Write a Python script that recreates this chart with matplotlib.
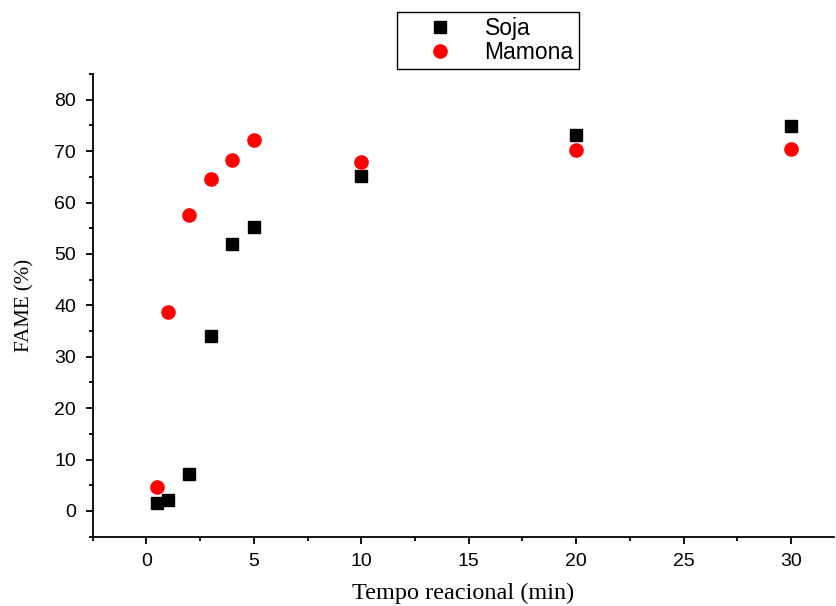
import numpy as np
import matplotlib.pyplot as plt

tempo = [0.5, 1, 2, 3, 4, 5, 10, 20, 30]
soja = [1.6, 2.1, 7.2, 34.1, 51.9, 55.2, 65.1, 73.1, 74.9]
mamona = [4.6, 38.8, 57.5, 64.6, 68.3, 72.1, 67.8, 70.2, 70.4]

fig = plt.figure(figsize=(8.37, 6.06), dpi=100)
ax = fig.add_axes([0.1108, 0.1144, 0.8857, 0.7635])

ax.plot(tempo, soja, "s", color="black", markersize=8, label="Soja", linestyle="none")
ax.plot(tempo, mamona, "o", color="red", markersize=9.5, label="Mamona", linestyle="none")

ax.set_xlim(-2.5, 32)
ax.set_ylim(-5, 85)
ax.set_xticks(np.arange(0, 31, 5))
ax.set_xticks(np.arange(-2.5, 32, 2.5), minor=True)
ax.set_yticks(np.arange(0, 81, 10))
ax.set_yticks(np.arange(-5, 86, 5), minor=True)

for s in ["top", "right"]:
    ax.spines[s].set_visible(False)
for s in ["left", "bottom"]:
    ax.spines[s].set_linewidth(1.3)

ax.tick_params(which="major", direction="out", length=5, width=1.3,
               labelsize=14, pad=7)
ax.tick_params(which="minor", direction="out", length=3, width=1.3)
for lab in ax.get_xticklabels() + ax.get_yticklabels():
    lab.set_family("Liberation Sans")

ax.set_xlabel("Tempo reacional (min)", family="Liberation Serif", fontsize=17.5, labelpad=9)
ax.set_ylabel("FAME (%)", family="Liberation Serif", fontsize=15, labelpad=14)

leg = fig.legend(loc="upper left", bbox_to_anchor=(397 / 837, 1 - 12 / 606),
                 prop={"family": "Liberation Sans", "size": 16.5},
                 fancybox=False, edgecolor="black", framealpha=1,
                 handletextpad=0.3, borderpad=0.22, labelspacing=0.05,
                 handlelength=3.3, borderaxespad=0)
leg.get_frame().set_linewidth(1.0)

plt.savefig("out.png", dpi=100)
